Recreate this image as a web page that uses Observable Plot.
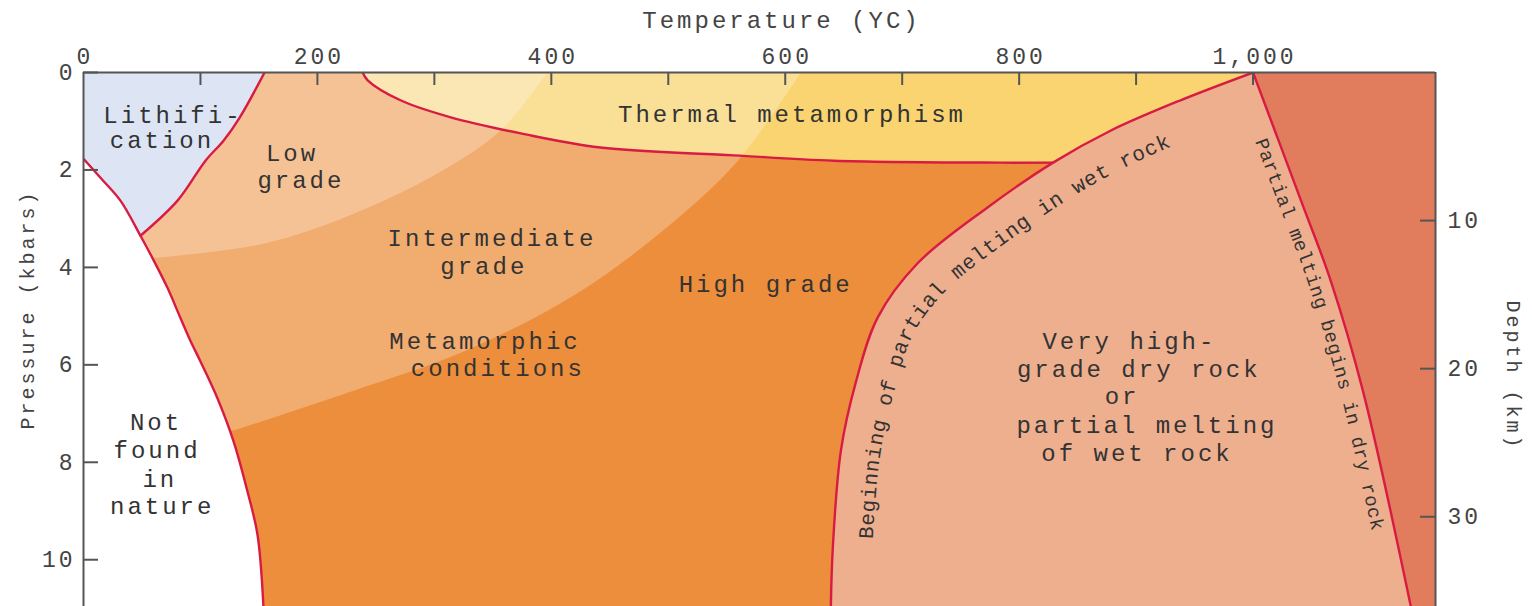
<!DOCTYPE html>
<html><head><meta charset="utf-8">
<script src="https://cdn.jsdelivr.net/npm/d3@7"></script>
<script src="https://cdn.jsdelivr.net/npm/@observablehq/plot@0.6"></script>
<style>
body{margin:0;background:#fff;}
#chart svg{display:block;}
#chart svg text{letter-spacing:3px;}
</style></head><body><div id="chart"></div>
<script>
// ---- scales / ticks ----
const T_MAX = 1156;          // °C at right edge of the frame
const P_MAX = 10.96;         // kbar at bottom edge (cropped)
const KM_PER_KBAR = 3.29;    // depth conversion for the right axis
const tempTicks = [0, 200, 400, 600, 800, 1000];
const tempMinorTicks = [100, 200, 300, 400, 500, 600, 700, 800, 900, 1000];
const pressureTicks = [0, 2, 4, 6, 8, 10];
const depthTicks = [10, 20, 30];

// ---- boundaries, [temperature °C, pressure kbar] ----
const lithificationLine = [[154.8,0],[133.4,0.93],[119.7,1.40],[104.3,1.81],[80.4,2.63],[48.7,3.35]];
const notFoundCurve = [[0,1.77],[14.5,2.16],[31.6,2.63],[48.7,3.35],[59,3.81],[71.8,4.42],[82.9,5.04],[91.5,5.51],[100,5.93],[114.6,6.69],[128.3,7.57],[140.2,8.60],[148.8,9.49],[153.9,10.99]];
const thermalBoundary = [[238.7,0],[243,0.16],[271,0.57],[314,0.92],[374,1.25],[442,1.54],[556,1.70],[641.6,1.81],[784.4,1.85],[829,1.85]];
const wetMeltingCurve = [[1000,0],[938,0.57],[878.5,1.19],[829,1.85],[773,2.77],[713,3.92],[679,5.03],[660,6.39],[647.6,7.76],[640.7,9.75],[639,10.97]];
const dryMeltingLine = [[1000,0],[1041,2.63],[1066.5,4.28],[1094,6.54],[1135,10.97]];
const lowGradeArc = [[59,3.81],[154.8,3.51],[231,2.90],[307,2.01],[356.7,1.19],[391.8,0.16],[397,0]];
const intermediateArc = [[128.3,7.35],[231,6.53],[326.8,5.71],[421.7,4.54],[498.7,3.18],[559.5,1.81],[613.3,0]];

// ---- labels ----
const regionLabels = [
  {text:"Lithifi-", T:75.2, P:0.88},
  {text:"cation", T:65.8, P:1.40},
  {text:"Low", T:177, P:1.65},
  {text:"grade", T:184.6, P:2.22},
  {text:"Intermediate", T:348, P:3.40},
  {text:"grade", T:341, P:3.97},
  {text:"Metamorphic", T:342, P:5.51},
  {text:"conditions", T:353, P:6.07},
  {text:"High grade", T:582, P:4.34},
  {text:"Thermal metamorphism", T:604.5, P:0.86},
  {text:"Very high-", T:893, P:5.51},
  {text:"grade dry rock", T:901, P:6.09},
  {text:"or", T:886.7, P:6.65},
  {text:"partial melting", T:908, P:7.24},
  {text:"of wet rock", T:899.5, P:7.82},
  {text:"Not", T:60.7, P:7.18},
  {text:"found", T:61.6, P:7.76},
  {text:"in", T:64, P:8.35},
  {text:"nature", T:66, P:8.91}
];
const wetLabel = {text:"Beginning of partial melting in wet rock", startP: 9.57};
const dryLabel = {text:"Partial melting begins in dry rock", startP: 1.25};
const xTitle = "Temperature (YC)";
const yTitle = "Pressure (kbars)";
const y2Title = "Depth (km)";

// ---- styles ----
const FONT = "'Liberation Mono', 'Courier New', monospace";
const C = {high:"#EC8E3B", thermal:"#F9D471", veryHigh:"#EEAF8F", dry:"#E17D5C", litho:"#DDE5F5", red:"#D81B43", axis:"#555", text:"#333", tick:"#444"};
const W = 1532, H = 606, ML = 83, MR = 97, MT = 72, MB = 0;
const tickLenP = 13 * P_MAX / (H - MT - MB);
const tickLenT = 15 * T_MAX / (W - ML - MR);

// helpers: duplicate end points so joins stay sharp under a smooth curve
const dup = (a) => [a[0], ...a, a[a.length - 1]];
const corners = (...pts) => pts.flatMap(p => [p, p]);
const rev = (a) => a.slice().reverse();

const thermalRegion = [...dup(thermalBoundary), ...dup(rev(wetMeltingCurve.slice(0, 4))), ...corners([1000, -1], [238.7, -1])];
const veryHighRegion = [...dup(wetMeltingCurve), ...corners([639, 12], [T_MAX + 10, 12], [T_MAX + 10, -1], [1000, -1])];
const dryRegion = [...dup(dryMeltingLine), ...corners([1135, 12], [T_MAX + 10, 12], [T_MAX + 10, -1], [1000, -1])];
const interOverlay = [...dup(intermediateArc), ...corners([613.3, -1], [-10, -1], [-10, 7.35])];
const lowOverlay = [...dup(lowGradeArc), ...corners([397, -1], [-10, -1], [-10, 3.81])];
const lithoRegion = [...dup(lithificationLine), ...dup(rev(notFoundCurve.slice(0, 4))), ...corners([-10, 1.77], [-10, -1], [154.8, -1])];
const notFoundRegion = [...dup(notFoundCurve), ...corners([153.9, 12], [-10, 12], [-10, 1.77])];

const area = (pts, fill, extra = {}) => Plot.line(pts, {x: d => d[0], y: d => d[1], fill, stroke: "none", curve: "catmull-rom", clip: true, ...extra});
const boundary = (pts) => Plot.line(pts, {x: d => d[0], y: d => d[1], stroke: C.red, strokeWidth: 2.4, curve: "catmull-rom", clip: true});

const plot = Plot.plot({
  width: W, height: H,
  marginLeft: ML, marginRight: MR, marginTop: MT, marginBottom: MB,
  x: {domain: [0, T_MAX]},
  y: {domain: [0, P_MAX], reverse: true},
  style: {fontFamily: FONT, background: "#fff", color: C.text},
  marks: [
    Plot.frame({fill: C.high, stroke: "none"}),
    area(thermalRegion, C.thermal),
    area(veryHighRegion, C.veryHigh),
    area(dryRegion, C.dry),
    area(interOverlay, "#fff", {fillOpacity: 0.27}),
    area(lowOverlay, "#fff", {fillOpacity: 0.27}),
    area(lithoRegion, C.litho),
    area(notFoundRegion, "#fff"),
    boundary(lithificationLine),
    boundary(notFoundCurve),
    boundary(thermalBoundary),
    boundary(wetMeltingCurve),
    boundary(dryMeltingLine),
    // frame sides
    Plot.ruleY([0], {stroke: C.axis, strokeWidth: 2}),
    Plot.ruleX([0, T_MAX], {stroke: C.axis, strokeWidth: 2}),
    // inward ticks
    Plot.ruleX(tempMinorTicks, {y1: 0, y2: tickLenP, stroke: C.axis, strokeWidth: 2}),
    Plot.ruleY(pressureTicks, {x1: 0, x2: tickLenT, stroke: C.axis, strokeWidth: 2}),
    Plot.ruleY(depthTicks.map(d => d / KM_PER_KBAR), {x1: T_MAX - tickLenT, x2: T_MAX, stroke: C.axis, strokeWidth: 2}),
    // axis labels
    Plot.axisX({anchor: "top", ticks: tempTicks, tickFormat: d3.format(","), tickSize: 0, tickPadding: 9, label: null, fontSize: 23, fill: C.tick, dx: 1.5}),
    Plot.axisY({anchor: "left", ticks: pressureTicks, tickSize: 0, tickPadding: 8, label: null, fontSize: 23, fill: C.tick}),
    Plot.axisY({anchor: "right", ticks: depthTicks.map(d => d / KM_PER_KBAR), tickFormat: d => String(Math.round(d * KM_PER_KBAR)), tickSize: 0, tickPadding: 12, label: null, fontSize: 23, fill: C.tick}),
    Plot.text([xTitle], {frameAnchor: "top", lineAnchor: "middle", textAnchor: "middle", dx: 22, dy: -52, fontSize: 24, fill: C.tick}),
    Plot.text([yTitle], {frameAnchor: "left", lineAnchor: "middle", textAnchor: "middle", rotate: -90, dx: -56, dy: -30, fontSize: 20, fill: C.tick}),
    Plot.text([y2Title], {frameAnchor: "right", lineAnchor: "middle", textAnchor: "middle", rotate: 90, dx: 78, dy: 36, fontSize: 20, fill: C.tick}),
    // region labels
    Plot.text(regionLabels, {x: "T", y: "P", text: "text", fontSize: 24, fill: C.text, lineAnchor: "middle", dx: 1.5})
  ]
});
document.getElementById("chart").appendChild(plot);

// ---- labels along the melting curves (positions from the plot's own scales) ----
function pathLabel(pts, label, offsetPx, fontSize, spacing, id, goingUp) {
  const sx = plot.scale("x"), sy = plot.scale("y");
  const px = pts.map(([t, p]) => [sx.apply(t), sy.apply(p)]);
  const svg = d3.select(plot);
  const tmp = svg.append("path").attr("fill", "none").attr("d", d3.line().curve(d3.curveCatmullRom)(px));
  const node = tmp.node(), L = node.getTotalLength(), N = 400, s = [];
  for (let i = 0; i <= N; i++) { const q = node.getPointAtLength(L * i / N); s.push([q.x, q.y]); }
  tmp.remove();
  const off = s.map((p, i) => {
    const a = s[Math.max(0, i - 1)], b = s[Math.min(N, i + 1)];
    const dx = b[0] - a[0], dy = b[1] - a[1], l = Math.hypot(dx, dy) || 1;
    return [p[0] - dy / l * offsetPx, p[1] + dx / l * offsetPx];
  });
  const y0 = sy.apply(label.startP);
  const trimmed = s.map((p, i) => [p, off[i]]).filter(([p]) => goingUp ? p[1] <= y0 : p[1] >= y0).map(d => d[1]);
  let defs = svg.select("defs");
  if (defs.empty()) defs = svg.append("defs");
  defs.append("path").attr("id", id).attr("d", d3.line()(trimmed));
  svg.append("text").attr("font-family", FONT).attr("font-size", fontSize).attr("fill", C.text)
    .attr("text-anchor", "start").style("letter-spacing", spacing + "px")
    .append("textPath").attr("href", "#" + id).attr("xlink:href", "#" + id).attr("startOffset", 0).text(label.text);
}
pathLabel(rev(wetMeltingCurve), wetLabel, 40, 21, 0.75, "wetPath", true);
pathLabel(dryMeltingLine, dryLabel, 22, 19, 0.6, "dryPath", false);
</script></body></html>
